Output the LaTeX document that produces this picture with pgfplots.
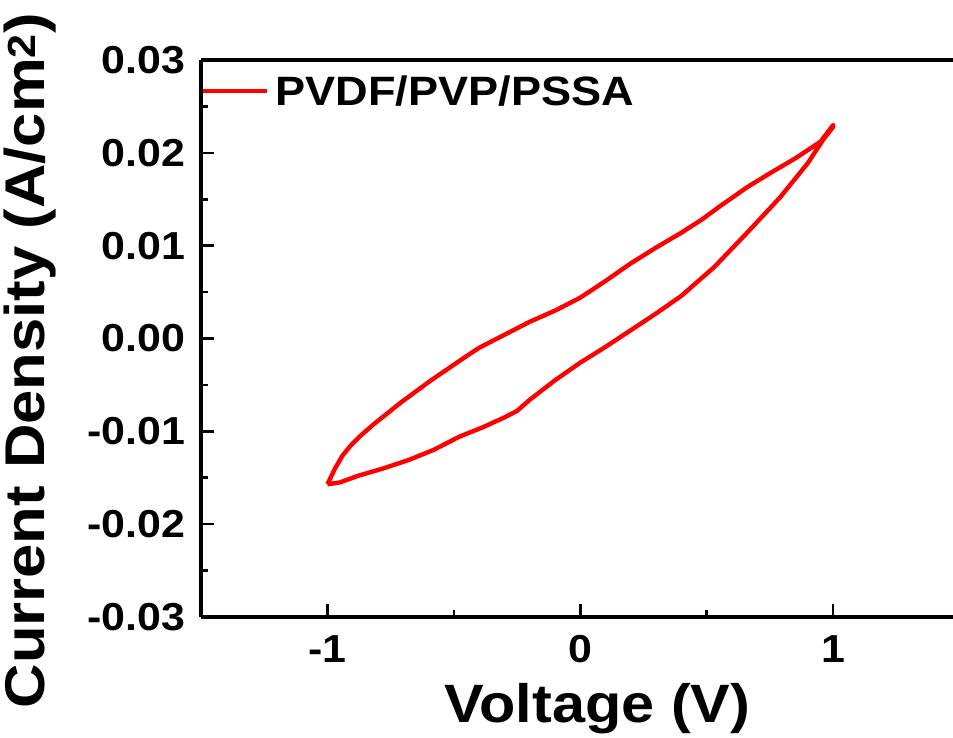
\documentclass[border=0pt]{standalone}
\usepackage{pgfplots}
\pgfplotsset{compat=1.18}
\usepackage{fontspec}
\setmainfont{Liberation Sans}[FakeStretch=1.1]
\begin{document}
\begin{tikzpicture}[x=1bp,y=1bp]
\useasboundingbox (-201bp,-121bp) rectangle (752bp,617bp);
\begin{axis}[
  at={(0,0)}, anchor=south west,
  width=752bp, height=557bp, scale only axis,
  xmin=-1.5, xmax=1.474, ymin=-0.03, ymax=0.03,
  axis x line=box, axis y line=left,
  axis line style={line width=3.4bp, -},
  every tick/.style={black, line width=2.6bp},
  tick align=inside,
  major tick length=13bp, minor tick length=7bp,
  xtick={-1,0,1}, minor xtick={-0.5,0.5},
  ytick={-0.03,-0.02,-0.01,0,0.01,0.02,0.03},
  minor ytick={-0.025,-0.015,-0.005,0.005,0.015,0.025},
  xtick pos=bottom, ytick pos=left,
  /pgf/number format/assume math mode=true,
  yticklabel style={/pgf/number format/fixed,/pgf/number format/fixed zerofill,/pgf/number format/precision=2, font=\fontsize{39bp}{42bp}\selectfont\bfseries, xshift=-12bp},
  xticklabel style={font=\fontsize{39bp}{42bp}\selectfont\bfseries, yshift=-15bp},
  scaled y ticks=false,
  xlabel={Voltage (V)},
  ylabel={Current Density (A/cm\textsuperscript{2})},
  xlabel style={font=\fontsize{54bp}{58bp}\selectfont\bfseries, at={(axis description cs:0.527,-0.164)}, anchor=center},
  ylabel style={font=\fontsize{56bp}{60bp}\selectfont\bfseries, at={(axis description cs:-0.2274,0.46)}, anchor=center, rotate=0},
  legend style={at={(axis description cs:0,0.944)}, anchor=west, draw=none, fill=none, inner xsep=0pt, inner ysep=0pt, font=\fontsize{41bp}{44bp}\selectfont\bfseries, nodes={inner xsep=6bp}},
  legend image code/.code={\draw[#1] (-2bp,0) -- (62bp,0);},
  clip=false,
]
\addplot[red, line width=4.4bp, line join=round] coordinates {
(-1.00,-0.0157) (-0.97,-0.0140) (-0.94,-0.0126) (-0.91,-0.0116) (-0.87,-0.0105)
(-0.82,-0.0093) (-0.76,-0.0080) (-0.71,-0.0069) (-0.65,-0.0057) (-0.59,-0.0045) (-0.52,-0.0032)
(-0.45,-0.0019) (-0.40,-0.0010) (-0.30,0.0004) (-0.20,0.0018) (-0.10,0.0030)
(0.00,0.0044) (0.10,0.0062) (0.20,0.0081) (0.30,0.0098) (0.40,0.0114)
(0.48,0.0128) (0.55,0.0142) (0.66,0.0163) (0.75,0.0178) (0.85,0.0194)
(0.95,0.0212) (1.00,0.0230)
(1.00,0.0228) (0.96,0.0214) (0.90,0.0189) (0.79,0.0152) (0.66,0.0114)
(0.53,0.0077) (0.40,0.0046) (0.30,0.0027) (0.20,0.0009) (0.10,-0.0009)
(0.00,-0.0026) (-0.10,-0.0045) (-0.20,-0.0066) (-0.25,-0.0078) (-0.30,-0.0085)
(-0.38,-0.0095) (-0.48,-0.0106) (-0.58,-0.0120) (-0.68,-0.0131) (-0.78,-0.0140)
(-0.88,-0.0148) (-0.95,-0.0155) (-1.00,-0.0157)
};
\addlegendentry{PVDF/PVP/PSSA}
\end{axis}
\end{tikzpicture}
\end{document}
